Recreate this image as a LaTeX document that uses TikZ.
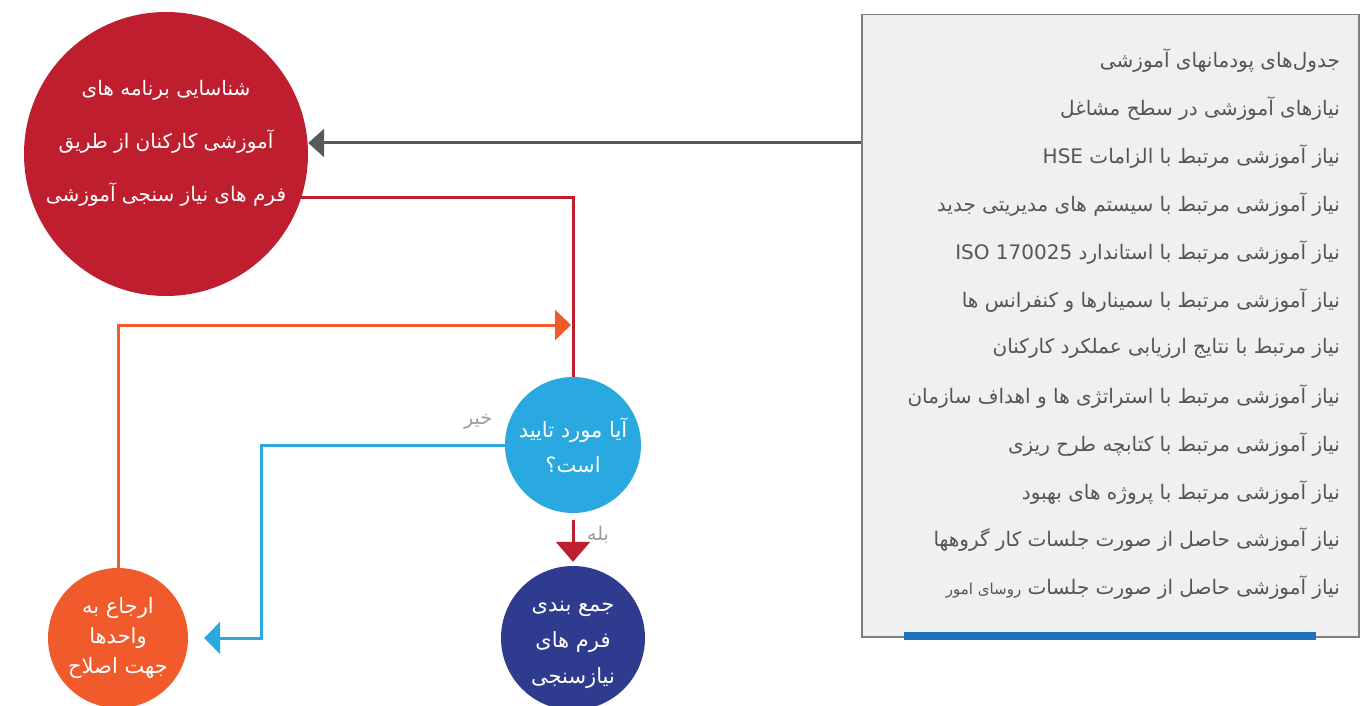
\documentclass[tikz,border=0pt]{standalone}
\usepackage{fontspec}
\usetikzlibrary{arrows.meta}
\TeXXeTstate=1
\newfontfamily\fa[Script=Arabic]{DejaVu Sans}
\definecolor{cred}{HTML}{BE1E2D}
\definecolor{cblue}{HTML}{29A9E0}
\definecolor{cnavy}{HTML}{2E3B8F}
\definecolor{corange}{HTML}{F15A2B}
\definecolor{cgrayarrow}{HTML}{58595B}
\definecolor{cboxfill}{HTML}{F0F0F0}
\definecolor{cboxline}{HTML}{7F7F7F}
\definecolor{cbar}{HTML}{1F72BD}
\definecolor{ctext}{HTML}{555555}
\definecolor{clabel}{HTML}{9A9A9A}
\tikzset{
  bubble/.style={circle, inner sep=0pt, text=white, align=center},
  bubbletext/.style={text=white, align=center, inner sep=0pt},
  listline/.style={anchor=east, inner sep=0pt, text=ctext, font=\fa\fontsize{20}{23}\selectfont},
  conn/.style={line width=3pt},
  lbl/.style={text=clabel, font=\fa\fontsize{19}{21}\selectfont, inner sep=0pt}
}
\begin{document}
\begin{tikzpicture}[x=1pt,y=-1pt]
\useasboundingbox (0,0) rectangle (1368,706);
% list box
\node[draw=cboxline, fill=cboxfill, line width=1.5pt, minimum width=497pt, minimum height=622pt, anchor=north west, inner sep=0pt] (box) at (861,14) {};
\fill[cbar] (904,632) rectangle (1316,640);
\foreach \t [count=\i] in {
  {جدول‌های پودمانهای آموزشی},
  {نیازهای آموزشی در سطح مشاغل},
  {نیاز آموزشی مرتبط با الزامات \beginL HSE\endL},
  {نیاز آموزشی مرتبط با سیستم های مدیریتی جدید},
  {نیاز آموزشی مرتبط با استاندارد \beginL ISO 170025\endL},
  {نیاز آموزشی مرتبط با سمینارها و کنفرانس ها},
  {نیاز مرتبط با نتایج ارزیابی عملکرد کارکنان},
  {نیاز آموزشی مرتبط با استراتژی ها و اهداف سازمان},
  {نیاز آموزشی مرتبط با کتابچه طرح ریزی},
  {نیاز آموزشی مرتبط با پروژه های بهبود},
  {نیاز آموزشی حاصل از صورت جلسات کار گروهها},
  {نیاز آموزشی حاصل از صورت جلسات {\fontsize{15}{17}\selectfont روسای امور}}
}{
  \node[listline] (l\i) at (1340, {61+47.9*(\i-1)}) {\beginR\t\endR};
}
% circles
\node[bubble, fill=cred, minimum size=284pt] (c1) at (166,154) {};
\node[bubbletext, font=\fa\fontsize{20}{53}\selectfont] (t1) at (166,143)
  {\beginR شناسایی برنامه های\endR\\ \beginR آموزشی کارکنان از طریق\endR\\ \beginR فرم های نیاز سنجی آموزشی\endR};
\node[bubble, fill=cblue, minimum size=136pt, font=\fa\fontsize{21}{35}\selectfont] (c2) at (573,445)
  {\beginR آیا مورد تایید\endR\\ \beginR است؟\endR};
\node[bubble, fill=cnavy, minimum size=144pt] (c3) at (573,638) {};
\node[bubbletext, font=\fa\fontsize{21}{36}\selectfont] (t3) at (573,645)
  {\beginR جمع بندی\endR\\ \beginR فرم های\endR\\ \beginR نیازسنجی\endR};
\node[bubble, fill=corange, minimum size=140pt, font=\fa\fontsize{21}{30}\selectfont] (c4) at (118,638)
  {\beginR ارجاع به\endR\\ \beginR واحدها\endR\\ \beginR جهت اصلاح\endR};
% connectors
\coordinate (g1) at (861,143);
\draw[conn, cgrayarrow, -{Triangle[length=16pt,width=28pt]}] (g1) -- (g1 -| c1.east);
\draw[conn, cred] (c1.-18) -| (c2.north);
\coordinate (oend) at (571,325);
\draw[conn, corange, -{Triangle[length=16pt,width=30pt]}] (c4.north) |- (oend);
\coordinate (bturn) at (261,445);
\draw[conn, cblue, -{Triangle[length=16pt,width=32pt]}] (c2.west) -- (bturn) |- ([xshift=16pt]c4.east);
\draw[conn, cred, shorten <=7pt, shorten >=4pt, -{Triangle[length=20pt,width=34pt]}] (c2.south) -- (c3.north);
\node[lbl] (yes) at (598,535) {\beginR بله\endR};
\node[lbl] (no) at (478,422) {\beginR خیر\endR};
\end{tikzpicture}
\end{document}
